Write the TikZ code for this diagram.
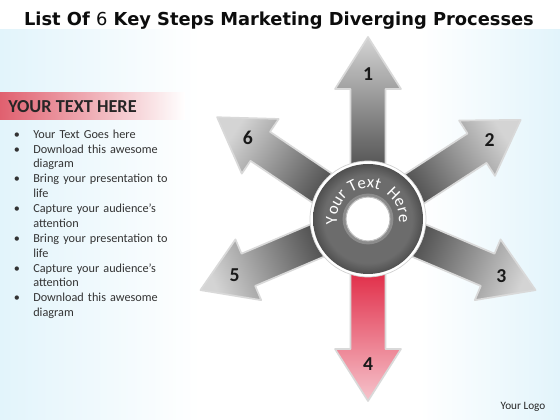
\documentclass[tikz,border=0pt]{standalone}
\usepackage{fontspec}
\setmainfont{Carlito}
\newfontfamily\titlefont{DejaVu Sans}
\usetikzlibrary{decorations.text}

\definecolor{bgblue}{HTML}{E2F4FB}
\definecolor{bannerred}{HTML}{E0606F}
\definecolor{arrowlight}{HTML}{D4D4D4}
\definecolor{arrowmid}{HTML}{9C9C9C}
\definecolor{arrowdark}{HTML}{484848}
\definecolor{redlight}{HTML}{F6C4CC}
\definecolor{redmid}{HTML}{EC6A80}
\definecolor{reddark}{HTML}{DF1F3C}
\definecolor{ringlight}{HTML}{6C6C6C}
\definecolor{ringmid}{HTML}{4A4A4A}
\definecolor{ringdark}{HTML}{2E2E2E}
\pgfdeclareradialshading{ringshade}{\pgfpoint{0bp}{0bp}}{color(0bp)=(ringlight); color(20bp)=(ringlight); color(26bp)=(ringmid); color(42bp)=(ringmid); color(50bp)=(ringdark)}

\begin{document}
\begin{tikzpicture}[
      x=0.025cm, y=0.025cm,
      arrowbody/.style={
        draw=white!85!black,
        line width=1.2pt,
        line join=round
      },
      num/.style={font=\fontsize{14}{16}\selectfont\bfseries, text=black!90},
      bul/.style={font=\fontsize{8.7}{10.5}\selectfont, text=black!80, inner sep=0pt, anchor=base},
      itm/.style={font=\fontsize{8.7}{10.54}\selectfont, text=black!80, align=left, text width=4.2cm,
                  inner sep=0pt, anchor=base west},
      ringtext/.style={decorate, decoration={text along path, text align=center, text color=white,
                  text={|\fontsize{12}{14}\selectfont|#1}}}
    ]
      \useasboundingbox (0,0) rectangle (560,420);
      \fill[white] (0,0) rectangle (560,420);
      \shade[left color=bgblue, right color=white] (0,0) rectangle (200,390);
      \shade[left color=white, right color=bgblue] (420,0) rectangle (560,390);

      \node[font=\titlefont\fontsize{12.7}{14}\selectfont, text=black!95] (title) at (279,399)
        {\bfseries List Of {\mdseries 6} Key Steps Marketing Diverging Processes};

      % left panel
      \shade[left color=bannerred, middle color=bannerred!60!white, right color=white] (0,300) rectangle (185,327);
      \node[font=\fontsize{13}{15}\selectfont\bfseries, text=black!85, anchor=west, inner sep=0pt] (head) at (8,313) {YOUR TEXT HERE};

      \foreach \k/\txt in {0/{Your Text Goes here},
                           1/{Download this awesome\\diagram},
                           3/{Bring your presentation to\\life},
                           5/{Capture your audience’s\\attention},
                           7/{Bring your presentation to\\life},
                           9/{Capture your audience’s\\attention},
                           11/{Download this awesome\\diagram}}
      {
        \node[bul] (b\k) at (17,281.7-14.87*\k) {\textbullet};
        \node[itm] (t\k) at (33,281.7-14.87*\k) {\txt};
      }

      % arrows
      \coordinate (c) at (368,201);
      \foreach \i/\a/\lt/\md/\dk in {1/90/arrowlight/arrowmid/arrowdark,
                                     2/33/arrowlight/arrowmid/arrowdark,
                                     3/-23/arrowlight/arrowmid/arrowdark,
                                     4/-90/redlight/redmid/reddark,
                                     5/203/arrowlight/arrowmid/arrowdark,
                                     6/146/arrowlight/arrowmid/arrowdark}
      {
        \pgfmathsetmacro\sa{\a-90}
        \path[arrowbody, top color=\lt, middle color=\md, bottom color=\dk, shading angle=\sa,
              shift={(c)}, rotate=\a]
          (40,-17.5) -- (130,-17.5) -- (130,-33) -- (182,0) -- (130,33) -- (130,17.5) -- (40,17.5) -- cycle;
        \node[num] (n\i) at ([shift={(\a:145)}]c) {\i};
      }

      % ring
      \fill[white, draw=gray!35, line width=0.5pt] (c) circle (58);
      \shade[shading=ringshade] (c) circle (55);
      \draw[white!55!black, line width=2pt] (c) circle (24);
      \fill[white, draw=white!75!black, line width=0.8pt] (c) circle (22);
      \path[ringtext={Your Text}] ([shift={(192:31)}]c) arc[start angle=192, end angle=66, radius=31];
      \path[ringtext={Here}] ([shift={(57:31)}]c) arc[start angle=57, end angle=-9, radius=31];

      \node[font=\fontsize{8}{10}\selectfont, text=black!85] (logo) at (523,13) {Your Logo};
    \end{tikzpicture}
\end{document}
